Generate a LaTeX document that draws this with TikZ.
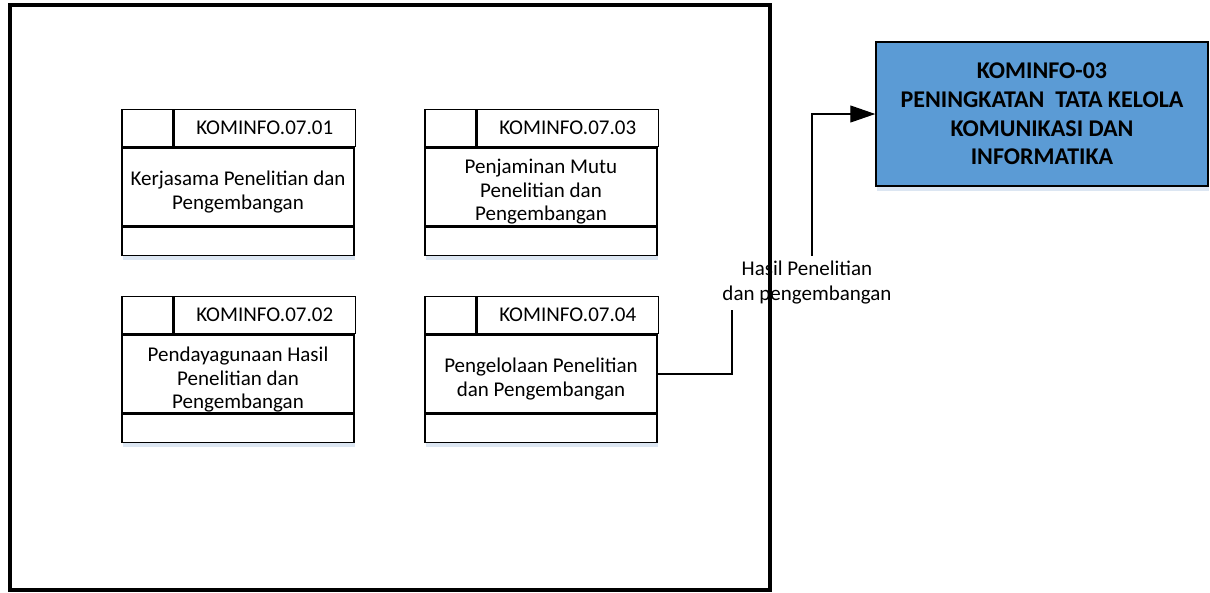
\documentclass[tikz,border=0pt]{standalone}
\usepackage{fontspec}
\setmainfont{Carlito}
\usepackage{tikz}
\usetikzlibrary{positioning, arrows.meta, shadows}
\definecolor{goalblue}{RGB}{91,155,213}
\definecolor{shadowblue}{RGB}{220,230,242}

\begin{document}
\begin{tikzpicture}[x=1pt, y=-1pt, >={Triangle[length=25pt, width=17pt]},
      frame/.style={draw, line width=3.5pt, minimum width=760pt, minimum height=585pt},
      cardbody/.style={draw, line width=1.2pt, fill=white, minimum width=232pt, minimum height=78pt, inner sep=0pt},
      cardtext/.style={align=center, inner sep=0pt, font=\fontsize{21}{23.5}\selectfont},
      cardcell/.style={draw, line width=1.2pt, fill=white, minimum width=51pt, minimum height=37.5pt, inner sep=0pt},
      cardtag/.style={cardcell, minimum width=181pt, font=\fontsize{21}{23.5}\selectfont},
      cardfoot/.style={cardcell, minimum width=232pt, minimum height=28.5pt, drop shadow={shadow xshift=1pt, shadow yshift=-4pt, fill=shadowblue, opacity=1}},
      goal/.style={draw, line width=1.5pt, fill=goalblue, minimum width=332pt, minimum height=144pt, align=center, font=\fontsize{24}{28.7}\selectfont\bfseries, drop shadow={shadow xshift=1pt, shadow yshift=-5pt, fill=shadowblue, opacity=1}},
      note/.style={align=center, inner sep=0pt, minimum height=54pt, font=\fontsize{21}{25}\selectfont},
      link/.style={line width=1.2pt}]

    \useasboundingbox (0,0) rectangle (1210,592);

    % group frame
    \node[frame] (grp) at (390,297.5) {};

    % card 07.01
    \node[cardbody] (body1) at (238,187) {};
    \node[cardtext] (txt1) at ([yshift=-5pt]body1.center) {Kerjasama Penelitian dan\\Pengembangan};
    \node[cardcell, anchor=south west] (cell1) at (body1.north west) {};
    \node[cardtag, right=0pt of cell1] (tag1) {KOMINFO.07.01};
    \node[cardfoot, below=0pt of body1] (foot1) {};

    % card 07.03
    \node[cardbody] (body3) at (541,187) {};
    \node[cardtext] (txt3) at ([yshift=-5pt]body3.center) {Penjaminan Mutu\\Penelitian dan\\Pengembangan};
    \node[cardcell, anchor=south west] (cell3) at (body3.north west) {};
    \node[cardtag, right=0pt of cell3] (tag3) {KOMINFO.07.03};
    \node[cardfoot, below=0pt of body3] (foot3) {};

    % card 07.02
    \node[cardbody] (body2) at (238,374) {};
    \node[cardtext] (txt2) at ([yshift=-6pt]body2.center) {Pendayagunaan Hasil\\Penelitian dan\\Pengembangan};
    \node[cardcell, anchor=south west] (cell2) at (body2.north west) {};
    \node[cardtag, right=0pt of cell2] (tag2) {KOMINFO.07.02};
    \node[cardfoot, below=0pt of body2] (foot2) {};

    % card 07.04
    \node[cardbody] (body4) at (541,374) {};
    \node[cardtext] (txt4) at ([yshift=-5pt]body4.center) {Pengelolaan Penelitian\\dan Pengembangan};
    \node[cardcell, anchor=south west] (cell4) at (body4.north west) {};
    \node[cardtag, right=0pt of cell4] (tag4) {KOMINFO.07.04};
    \node[cardfoot, below=0pt of body4] (foot4) {};

    % target
    \node[goal] (kom) at (1042,114) {KOMINFO-03\\PENINGKATAN \ TATA KELOLA\\KOMUNIKASI DAN\\INFORMATIKA};

    % output flow
    \node[note] (hasil) at (807,283) {Hasil Penelitian\\dan pengembangan};
    \draw[link] (body4.east) -| ([xshift=-75pt]hasil.south);
    \draw[link, ->] ([xshift=5pt]hasil.north) |- (kom.west);
\end{tikzpicture}
\end{document}
